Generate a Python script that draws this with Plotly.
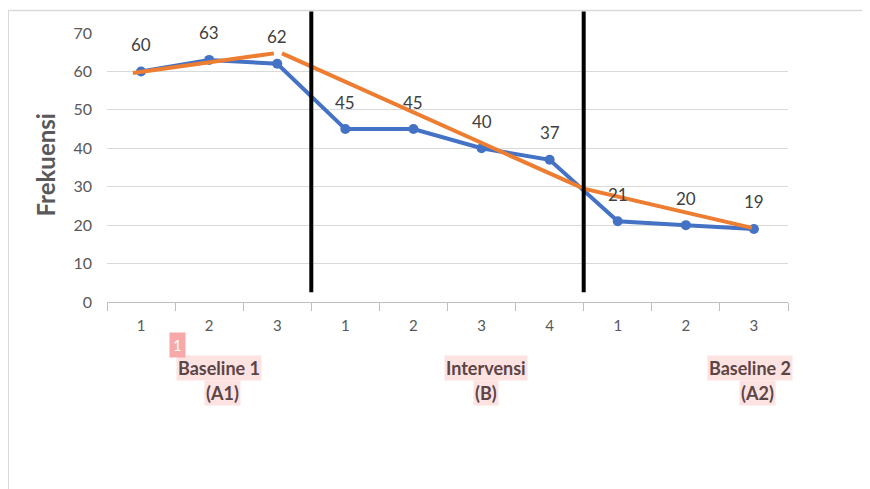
import plotly.graph_objects as go

# ---- data ----
tick_labels = ["1", "2", "3", "1", "2", "3", "4", "1", "2", "3"]
frekuensi = [60, 63, 62, 45, 45, 40, 37, 21, 20, 19]

# trend lines (orange): x in category-index units
trend_a1_x = [-0.12, 1.95]
trend_a1_y = [59.6, 64.7]
trend_b_x = [2.07, 6.5, 8.97]
trend_b_y = [64.7, 29.5, 19.3]

phase_lines = [2.5, 6.5]
phase_names = [("Baseline 1", "(A1)"), ("Intervensi", "(B)"), ("Baseline 2", "(A2)")]
phase_name_x = [1.15, 5.07, 8.94]
phase_sub_x = [1.19, 5.07, 9.05]

BLUE = "#4472C4"
ORANGE = "#ED7D31"
GRAY = "#595959"
FONT = "Lato, Carlito, Calibri, sans-serif"

x_idx = list(range(len(frekuensi)))

fig = go.Figure()
fig.add_trace(go.Scatter(
    x=x_idx, y=frekuensi, mode="lines+markers",
    line=dict(color=BLUE, width=4), marker=dict(color=BLUE, size=10),
    showlegend=False, hoverinfo="skip"))
fig.add_trace(go.Scatter(
    x=trend_a1_x, y=trend_a1_y, mode="lines",
    line=dict(color=ORANGE, width=4), showlegend=False, hoverinfo="skip"))
fig.add_trace(go.Scatter(
    x=trend_b_x, y=trend_b_y, mode="lines",
    line=dict(color=ORANGE, width=4), showlegend=False, hoverinfo="skip"))

annotations = []
for xi, v in zip(x_idx, frekuensi):
    annotations.append(dict(x=xi, y=v, xref="x", yref="y", text=str(v),
                            showarrow=False, yshift=27,
                            font=dict(family=FONT, size=17, color="#404040")))

for (name, sub), nx, sx in zip(phase_names, phase_name_x, phase_sub_x):
    annotations.append(dict(x=nx, y=-0.246, xref="x", yref="paper", text="<b>%s</b>" % name,
                            xanchor="center", yanchor="middle",
                            showarrow=False, bgcolor="#FDE2E2", borderpad=1,
                            font=dict(family=FONT, size=18, color="#5B4545")))
    annotations.append(dict(x=sx, y=-0.339, xref="x", yref="paper", text="<b>%s</b>" % sub,
                            xanchor="center", yanchor="middle",
                            showarrow=False, bgcolor="#FDE2E2", borderpad=1,
                            font=dict(family=FONT, size=18, color="#5B4545")))

# comment marker
annotations.append(dict(x=0.53, y=-0.16, xref="x", yref="paper", text="1",
                        xanchor="center", yanchor="middle",
                        showarrow=False, bgcolor="#F7A8A8", borderpad=3,
                        font=dict(family=FONT, size=15, color="white")))

# y-axis title
annotations.append(dict(x=-0.09, y=0.51, xref="paper", yref="paper",
                        xanchor="center", yanchor="middle",
                        text="<b>Frekuensi</b>", textangle=-90, showarrow=False,
                        font=dict(family=FONT, size=24, color=GRAY)))

shapes = [dict(type="rect", xref="paper", yref="paper", x0=-0.145, x1=1.3, y0=-1.0, y1=1.084,
               line=dict(color="#D9D9D9", width=1.5), layer="below")]
for px in phase_lines:
    shapes.append(dict(type="line", xref="x", yref="paper", x0=px, x1=px, y0=0.036, y1=1.08,
                       line=dict(color="black", width=4)))

# The page body has an 8px margin; margins below compensate for it.
fig.update_layout(
    width=870, height=489,
    margin=dict(l=99, r=90, t=25, b=195),
    paper_bgcolor="white", plot_bgcolor="white",
    annotations=annotations, shapes=shapes,
    xaxis=dict(range=[-0.5, 9.5], tickmode="array", tickvals=x_idx, ticktext=tick_labels,
               showgrid=False, zeroline=False, showline=True, linecolor="#BFBFBF", linewidth=1,
               ticks="", ticklabelstandoff=10,
               tickfont=dict(family=FONT, size=15, color=GRAY),
               minor=dict(tick0=-0.5, dtick=1, ticks="outside", ticklen=8,
                          tickcolor="#BFBFBF", showgrid=False)),
    yaxis=dict(range=[0, 70], dtick=10, showgrid=True, gridcolor="#D9D9D9", gridwidth=1,
               zeroline=False, showline=False, ticks="", ticklabelstandoff=14,
               tickfont=dict(family=FONT, size=16, color=GRAY)),
)

fig.write_html("out.html")
